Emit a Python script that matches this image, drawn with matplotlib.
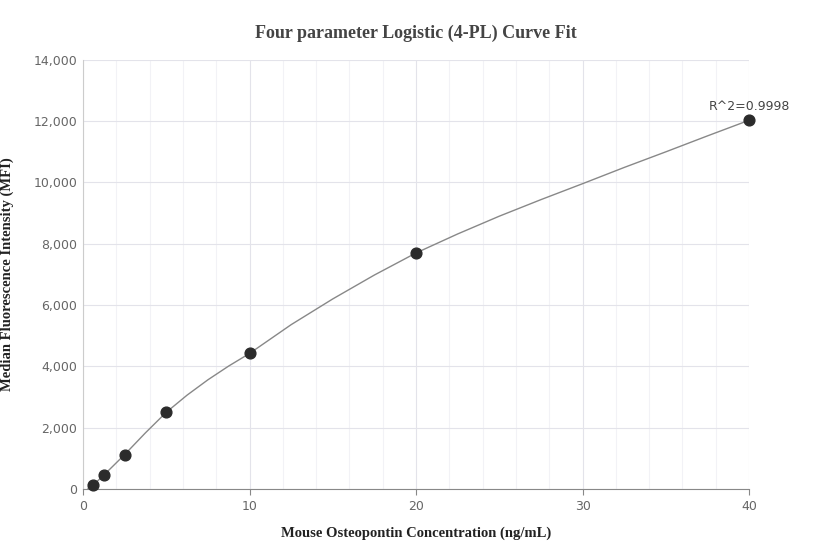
import matplotlib
matplotlib.use('Agg')
import matplotlib.pyplot as plt
from matplotlib.ticker import FuncFormatter, MultipleLocator

# standards (ng/mL) and measured MFI
conc = [0.625, 1.25, 2.5, 5, 10, 20, 40]
mfi = [130, 450, 1120, 2500, 4420, 7700, 12030]

# fitted curve
curve_x = [0.3, 0.625, 1.25, 2.5, 3.75, 5, 6.25, 7.5, 8.75, 10, 12.5, 15, 17.5, 20,
           22.5, 25, 27.5, 30, 32.5, 35, 37.5, 40]
curve_y = [20, 130, 450, 1120, 1830, 2500, 3060, 3560, 4010, 4420, 5360, 6200, 6980, 7700,
           8320, 8900, 9440, 9960, 10490, 11000, 11520, 12030]

fig = plt.figure(figsize=(8.32, 5.6), dpi=100)
ax = fig.add_axes([0.0998, 0.127, 0.8005, 0.766])

ax.plot(curve_x, curve_y, color='#888888', lw=1, zorder=2)
ax.scatter(conc, mfi, s=60, color='#2b2b2b', zorder=3, clip_on=False)
ax.annotate('R^2=0.9998', (conc[-1], mfi[-1]), xytext=(0, 5), textcoords='offset points',
            ha='center', va='bottom', fontsize=9, color='#444444')

ax.set_xlim(0, 40)
ax.set_ylim(0, 14000)
ax.xaxis.set_major_locator(MultipleLocator(10))
ax.xaxis.set_minor_locator(MultipleLocator(2))
ax.yaxis.set_major_locator(MultipleLocator(2000))
ax.yaxis.set_major_formatter(FuncFormatter(lambda v, p: f'{int(v):,}'))
ax.grid(which='major', color='#e3e3ea', lw=0.8)
ax.grid(which='minor', axis='x', color='#f2f2f6', lw=0.8)
ax.set_axisbelow(True)
for s in ['top', 'right']:
    ax.spines[s].set_visible(False)
ax.spines['left'].set_color('#cccccc')
ax.spines['bottom'].set_color('#888888')
ax.tick_params(which='both', length=0, labelsize=9, colors='#666666', pad=4)
ax.tick_params(axis='x', which='major', length=4, color='#888888')

serif = 'Liberation Serif'
ax.set_title('Four parameter Logistic (4-PL) Curve Fit', family=serif, fontweight='bold',
             fontsize=13, color='#444444', pad=16)
ax.set_xlabel('Mouse Osteopontin Concentration (ng/mL)', family=serif, fontweight='bold',
              fontsize=10.5, color='#222222', labelpad=10)
ax.set_ylabel('Median Fluorescence Intensity (MFI)', family=serif, fontweight='bold',
              fontsize=10.5, color='#222222', labelpad=14)

fig.savefig('out.png', dpi=100)
